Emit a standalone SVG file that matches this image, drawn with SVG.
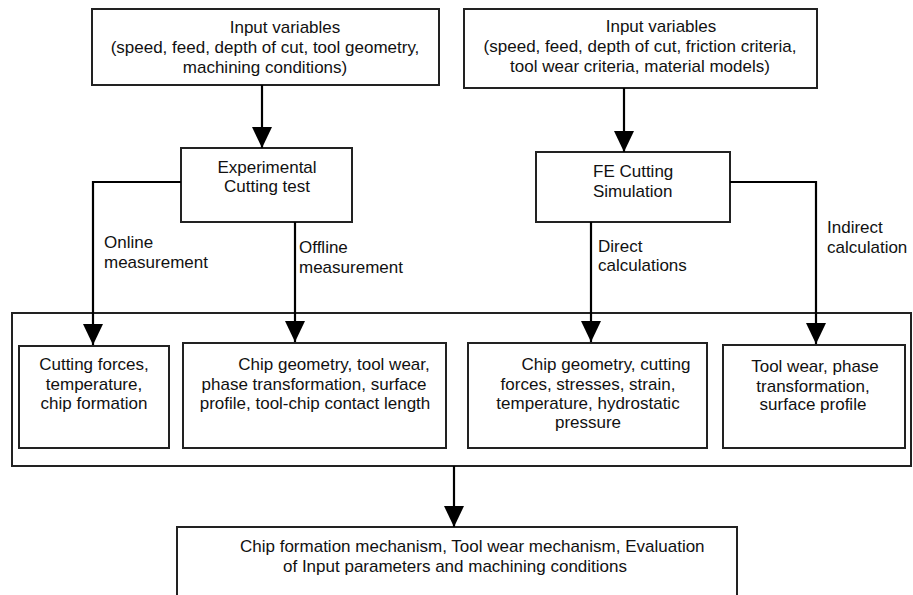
<svg xmlns="http://www.w3.org/2000/svg" width="913" height="595" viewBox="0 0 913 595">
<defs>
<marker id="ah" viewBox="0 0 21 20" refX="21" refY="10" markerWidth="21" markerHeight="20" markerUnits="userSpaceOnUse" orient="auto">
<path d="M0,0 L21,10 L0,20 z" fill="#000"/>
</marker>
<style>
rect.box{fill:#fff;stroke:#222;stroke-width:2}
text{font-family:"Liberation Sans",Arial,sans-serif;font-size:17px;fill:#111}
.m{text-anchor:middle}
.c{fill:none;stroke:#000;stroke-width:2.2}
</style>
</defs>
<rect width="913" height="595" fill="#fff"/>
<g id="container"><rect class="box" x="12" y="313" width="899" height="153"/></g>
<g id="in1"><rect class="box" x="92" y="9" width="347" height="76"/>
<text class="m" x="285" y="33">Input variables</text>
<text class="m" x="265" y="53">(speed, feed, depth of cut, tool geometry,</text>
<text class="m" x="265" y="73">machining conditions)</text></g>
<g id="in2"><rect class="box" x="464" y="9" width="353" height="79"/>
<text class="m" x="661" y="32">Input variables</text>
<text class="m" x="640" y="52">(speed, feed, depth of cut, friction criteria,</text>
<text class="m" x="640" y="72">tool wear criteria, material models)</text></g>
<g id="exp"><rect class="box" x="181" y="148" width="171" height="74"/>
<text class="m" x="267" y="173">Experimental</text>
<text class="m" x="267" y="192">Cutting test</text></g>
<g id="fe"><rect class="box" x="536" y="152" width="194" height="70"/>
<text x="593" y="177">FE Cutting</text>
<text x="593" y="197">Simulation</text></g>
<g id="b1"><rect class="box" x="19" y="346" width="150" height="102"/>
<text class="m" x="94" y="370">Cutting forces,</text>
<text class="m" x="94" y="390">temperature,</text>
<text class="m" x="94" y="409">chip formation</text></g>
<g id="b2"><rect class="box" x="183" y="343" width="263" height="105"/>
<text class="m" x="334" y="370">Chip geometry, tool wear,</text>
<text class="m" x="314" y="390">phase transformation, surface</text>
<text class="m" x="315" y="409">profile, tool-chip contact length</text></g>
<g id="b3"><rect class="box" x="468" y="343" width="239" height="105"/>
<text class="m" x="606" y="370">Chip geometry, cutting</text>
<text class="m" x="588" y="390">forces, stresses, strain,</text>
<text class="m" x="588" y="409">temperature, hydrostatic</text>
<text class="m" x="588" y="428">pressure</text></g>
<g id="b4"><rect class="box" x="723" y="345" width="182" height="103"/>
<text class="m" x="815" y="372">Tool wear, phase</text>
<text class="m" x="813" y="392">transformation,</text>
<text class="m" x="813" y="410">surface profile</text></g>
<g id="out"><rect class="box" x="177" y="527" width="560" height="80"/>
<text x="240" y="552">Chip formation mechanism, Tool wear mechanism, Evaluation</text>
<text x="283" y="572">of Input parameters and machining conditions</text></g>
<g id="connectors">
<path class="c" d="M262,85 V148" marker-end="url(#ah)"/>
<path class="c" d="M624,88 V152" marker-end="url(#ah)"/>
<path class="c" d="M181,182 H93 V345" marker-end="url(#ah)"/>
<path class="c" d="M295,222 V342" marker-end="url(#ah)"/>
<path class="c" d="M591,222 V342" marker-end="url(#ah)"/>
<path class="c" d="M730,182 H816 V344" marker-end="url(#ah)"/>
<path class="c" d="M454,466 V527" marker-end="url(#ah)"/>
<text x="104" y="248">Online</text>
<text x="104" y="268">measurement</text>
<text x="299" y="253">Offline</text>
<text x="299" y="273">measurement</text>
<text x="598" y="252">Direct</text>
<text x="598" y="271">calculations</text>
<text x="827" y="233">Indirect</text>
<text x="827" y="253">calculation</text>
</g>
</svg>
